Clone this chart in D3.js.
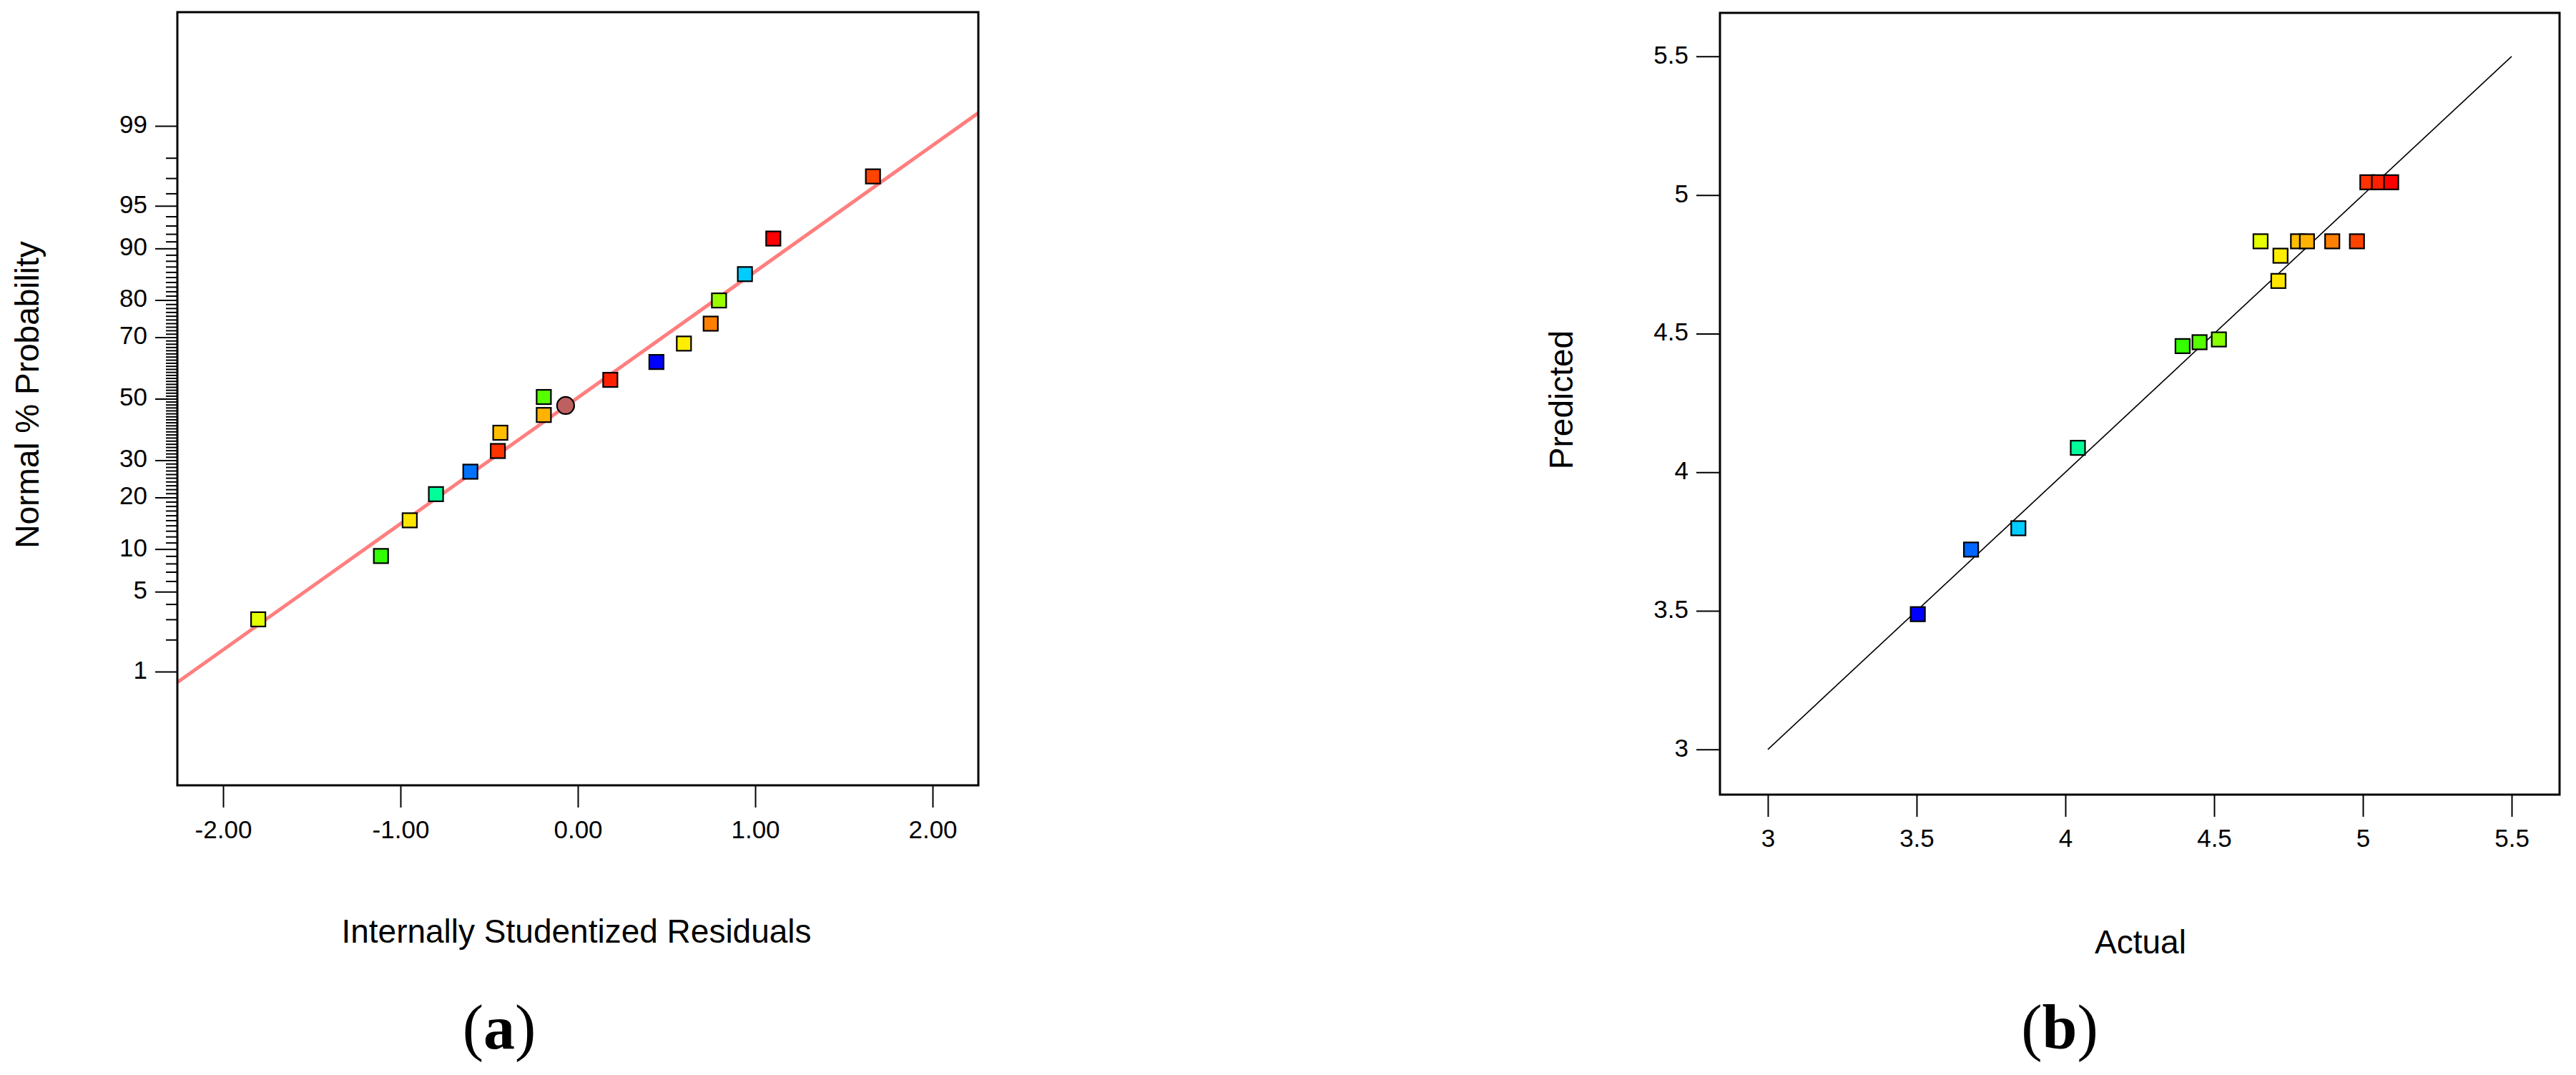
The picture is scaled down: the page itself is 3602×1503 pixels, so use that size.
<!DOCTYPE html>
<html>
<head>
<meta charset="utf-8">
<script src="https://cdn.jsdelivr.net/npm/d3@7"></script>
<style>
  html, body { margin: 0; padding: 0; background: #ffffff; }
  svg { display: block; }
</style>
</head>
<body>
<svg id="chart" width="3602" height="1503"></svg>
<script>
// ---------------- DATA ----------------
// Panel (a): normal probability plot of internally studentized residuals
const residualsA = [-1.802, -1.110, -0.948, -0.800, -0.606, -0.451, -0.437, -0.192, -0.192, 0.183, 0.443, 0.598, 0.749, 0.796, 0.942, 1.102, 1.664];
const probabilityA = [3.0, 9.0, 15.0, 20.8, 26.7, 32.8, 38.6, 44.5, 50.6, 56.4, 62.3, 68.1, 73.9, 79.9, 85.6, 91.4, 97.1];
const colorsA = ["#e5ff00", "#33ff00", "#ffe600", "#00ff99", "#0073ff", "#ff3300", "#ffbf00", "#ffb300", "#55ff00", "#ff2000", "#0000ff", "#ffee00", "#ff8000", "#99ff00", "#00ccff", "#ff0000", "#ff4400"];
const circleResidual = [-0.069];
const circleProbability = [47.7];
const fitResidual = [-2.258, 2.258];
const fitProbability = [0.78, 99.26];
const xTicksA = [-2, -1, 0, 1, 2];
const yMajorTicksA = [1, 5, 10, 20, 30, 50, 70, 80, 90, 95, 99];
const yMinorTicksA = d3.range(2, 99).filter(v => !yMajorTicksA.includes(v));

// Panel (b): predicted vs actual
const actualB = [3.504, 3.683, 3.842, 4.042, 4.394, 4.451, 4.516, 4.656, 4.716, 4.723, 4.782, 4.812, 4.897, 4.980, 5.015, 5.054, 5.095];
const predictedB = [3.488, 3.721, 3.798, 4.088, 4.455, 4.469, 4.479, 4.833, 4.690, 4.781, 4.833, 4.833, 4.833, 4.833, 5.046, 5.046, 5.046];
const colorsB = ["#0000ff", "#0066ff", "#00ccff", "#00ff99", "#33ff00", "#55ff00", "#88ff00", "#e5ff00", "#ffe600", "#ffee00", "#ffbf00", "#ffb300", "#ff8000", "#ff4400", "#ff3300", "#ff2000", "#ff0000"];
const diagLine = [3, 5.5];
const xTicksB = [3, 3.5, 4, 4.5, 5, 5.5];
const yTicksB = [3, 3.5, 4, 4.5, 5, 5.5];

// ---------------- HELPERS ----------------
function probit(p) {
  const a=[-3.969683028665376e+01,2.209460984245205e+02,-2.759285104469687e+02,1.383577518672690e+02,-3.066479806614716e+01,2.506628277459239e+00];
  const b=[-5.447609879822406e+01,1.615858368580409e+02,-1.556989798598866e+02,6.680131188771972e+01,-1.328068155288572e+01];
  const c=[-7.784894002430293e-03,-3.223964580411365e-01,-2.400758277161838e+00,-2.549732539343734e+00,4.374664141464968e+00,2.938163982698783e+00];
  const d=[7.784695709041462e-03,3.224671290700398e-01,2.445134137142996e+00,3.754408661907416e+00];
  const pl = 0.02425, ph = 1 - pl;
  if (p < pl) { const q = Math.sqrt(-2*Math.log(p)); return (((((c[0]*q+c[1])*q+c[2])*q+c[3])*q+c[4])*q+c[5])/((((d[0]*q+d[1])*q+d[2])*q+d[3])*q+1); }
  if (p <= ph) { const q = p-0.5, r = q*q; return (((((a[0]*r+a[1])*r+a[2])*r+a[3])*r+a[4])*r+a[5])*q/(((((b[0]*r+b[1])*r+b[2])*r+b[3])*r+b[4])*r+1); }
  const q = Math.sqrt(-2*Math.log(1-p)); return -(((((c[0]*q+c[1])*q+c[2])*q+c[3])*q+c[4])*q+c[5])/((((d[0]*q+d[1])*q+d[2])*q+d[3])*q+1);
}
const pz = p => probit(p / 100);

const SANS = "'Liberation Sans', Arial, sans-serif";
const SERIF = "'Liberation Serif', 'Times New Roman', serif";

const svg = d3.select("#chart");
svg.append("rect").attr("width", 3602).attr("height", 1503).attr("fill", "#fff");

const TICK_FONT = 35, TITLE_FONT = 46, SQ = 20;

function styleAxis(g) {
  g.select(".domain").remove();
  g.selectAll(".tick line").attr("stroke", "#000").attr("stroke-width", 2);
  g.selectAll(".tick text").attr("font-size", TICK_FONT).attr("fill", "#000")
    .style("font-family", SANS);
}

// ---------------- PANEL A ----------------
const A = { left: 248, right: 1368, top: 17, bottom: 1098 };
const xA = d3.scaleLinear().domain([-2.258, 2.258]).range([A.left, A.right]);
const zA = d3.scaleLinear().domain([-3.296, 3.296]).range([A.bottom, A.top]);
const yA = p => zA(pz(p));

const gA = svg.append("g");
svg.append("defs").append("clipPath").attr("id", "clipA")
  .append("rect").attr("x", A.left).attr("y", A.top).attr("width", A.right - A.left).attr("height", A.bottom - A.top);

// y axis minor ticks
gA.append("g").attr("transform", `translate(${A.left},0)`)
  .call(d3.axisLeft(zA).tickValues(yMinorTicksA.map(pz)).tickSize(16).tickFormat(""))
  .call(styleAxis);
// y axis major ticks
const majorLabel = new Map(yMajorTicksA.map(v => [pz(v), String(v)]));
gA.append("g").attr("transform", `translate(${A.left},0)`)
  .call(d3.axisLeft(zA).tickValues(yMajorTicksA.map(pz)).tickSize(31).tickPadding(11)
    .tickFormat(z => majorLabel.get(z)))
  .call(styleAxis)
  .call(g => g.selectAll(".tick text").attr("dy", "0.27em"));
// x axis
gA.append("g").attr("transform", `translate(0,${A.bottom})`)
  .call(d3.axisBottom(xA).tickValues(xTicksA).tickSize(31).tickPadding(18).tickFormat(d => d.toFixed(2)))
  .call(styleAxis);

// fit line
gA.append("line").attr("clip-path", "url(#clipA)")
  .attr("x1", xA(fitResidual[0])).attr("y1", yA(fitProbability[0]))
  .attr("x2", xA(fitResidual[1])).attr("y2", yA(fitProbability[1]))
  .attr("stroke", "#ff7f7f").attr("stroke-width", 5);

// points
gA.selectAll("rect.pt").data(residualsA.map((r, i) => ({ r, p: probabilityA[i], c: colorsA[i] })))
  .join("rect").attr("class", "pt")
  .attr("x", d => xA(d.r) - SQ / 2).attr("y", d => yA(d.p) - SQ / 2)
  .attr("width", SQ).attr("height", SQ)
  .attr("fill", d => d.c).attr("stroke", "#000").attr("stroke-width", 2.2);
gA.selectAll("ellipse.pt").data(circleResidual.map((r, i) => ({ r, p: circleProbability[i] })))
  .join("ellipse").attr("class", "pt")
  .attr("cx", d => xA(d.r)).attr("cy", d => yA(d.p)).attr("rx", 12).attr("ry", 12)
  .attr("fill", "#bf6060").attr("stroke", "#000").attr("stroke-width", 2.2);

// frame
gA.append("rect").attr("x", A.left).attr("y", A.top).attr("width", A.right - A.left).attr("height", A.bottom - A.top)
  .attr("fill", "none").attr("stroke", "#000").attr("stroke-width", 3);

// titles
gA.append("text").attr("x", (A.left + A.right) / 2 - 2).attr("y", 1318).attr("text-anchor", "middle")
  .style("font-family", SANS).attr("font-size", TITLE_FONT).attr("fill", "#000").text("Internally Studentized Residuals");
gA.append("text").attr("transform", `translate(54,${552}) rotate(-90)`).attr("text-anchor", "middle")
  .style("font-family", SANS).attr("font-size", TITLE_FONT).attr("fill", "#000").text("Normal % Probability");
const la = gA.append("text").attr("x", 698).attr("y", 1466).attr("text-anchor", "middle")
  .style("font-family", SERIF).attr("font-size", 88).attr("fill", "#000");
la.append("tspan").text("(");
la.append("tspan").attr("font-weight", "bold").text("a");
la.append("tspan").text(")");

// ---------------- PANEL B ----------------
const B = { left: 2405, right: 3579, top: 18, bottom: 1111 };
const xB = d3.scaleLinear().domain([2.839, 5.661]).range([B.left, B.right]);
const yB = d3.scaleLinear().domain([2.837, 5.657]).range([B.bottom, B.top]);
const gB = svg.append("g");

gB.append("g").attr("transform", `translate(${B.left},0)`)
  .call(d3.axisLeft(yB).tickValues(yTicksB).tickSize(33).tickPadding(11).tickFormat(d => String(d)))
  .call(styleAxis)
  .call(g => g.selectAll(".tick text").attr("dy", "0.27em"));
gB.append("g").attr("transform", `translate(0,${B.bottom})`)
  .call(d3.axisBottom(xB).tickValues(xTicksB).tickSize(31).tickPadding(17).tickFormat(d => String(d)))
  .call(styleAxis);

gB.append("line")
  .attr("x1", xB(diagLine[0])).attr("y1", yB(diagLine[0]))
  .attr("x2", xB(diagLine[1])).attr("y2", yB(diagLine[1]))
  .attr("stroke", "#000").attr("stroke-width", 1.6);

gB.selectAll("rect.pt").data(actualB.map((a, i) => ({ a, p: predictedB[i], c: colorsB[i] })))
  .join("rect").attr("class", "pt")
  .attr("x", d => xB(d.a) - SQ / 2).attr("y", d => yB(d.p) - SQ / 2)
  .attr("width", SQ).attr("height", SQ)
  .attr("fill", d => d.c).attr("stroke", "#000").attr("stroke-width", 2.2);

gB.append("rect").attr("x", B.left).attr("y", B.top).attr("width", B.right - B.left).attr("height", B.bottom - B.top)
  .attr("fill", "none").attr("stroke", "#000").attr("stroke-width", 3);

gB.append("text").attr("x", (B.left + B.right) / 2 + 1).attr("y", 1333).attr("text-anchor", "middle")
  .style("font-family", SANS).attr("font-size", TITLE_FONT).attr("fill", "#000").text("Actual");
gB.append("text").attr("transform", `translate(2199,${559}) rotate(-90)`).attr("text-anchor", "middle")
  .style("font-family", SANS).attr("font-size", TITLE_FONT).attr("fill", "#000").text("Predicted");
const lb = gB.append("text").attr("x", 2880).attr("y", 1466).attr("text-anchor", "middle")
  .style("font-family", SERIF).attr("font-size", 88).attr("fill", "#000");
lb.append("tspan").text("(");
lb.append("tspan").attr("font-weight", "bold").text("b");
lb.append("tspan").text(")");
</script>
</body>
</html>
